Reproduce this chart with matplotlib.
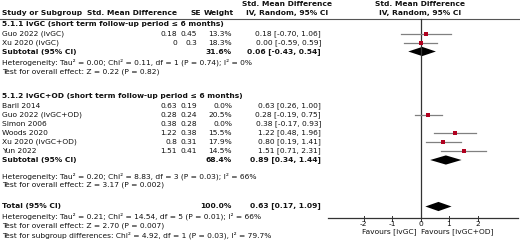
import matplotlib.pyplot as plt

# ---- data ----
g1_title = "5.1.1 ivGC (short term follow-up period ≤ 6 months)"
g1_names = ["Guo 2022 (ivGC)", "Xu 2020 (ivGC)"]
g1_smd = [0.18, 0]
g1_se = [0.45, 0.3]
g1_weight = [13.3, 18.3]
g1_lo = [-0.70, -0.59]
g1_hi = [1.06, 0.59]
g1_sub = (0.06, -0.43, 0.54, 31.6)
g1_het = "Heterogeneity: Tau² = 0.00; Chi² = 0.11, df = 1 (P = 0.74); I² = 0%"
g1_z = "Test for overall effect: Z = 0.22 (P = 0.82)"

g2_title = "5.1.2 ivGC+OD (short term follow-up period ≤ 6 months)"
g2_names = ["Baril 2014", "Guo 2022 (ivGC+OD)", "Simon 2006", "Woods 2020",
            "Xu 2020 (ivGC+OD)", "Yun 2022"]
g2_smd = [0.63, 0.28, 0.38, 1.22, 0.8, 1.51]
g2_se = [0.19, 0.24, 0.28, 0.38, 0.31, 0.41]
g2_weight = [0.0, 20.5, 0.0, 15.5, 17.9, 14.5]
g2_lo = [0.26, -0.19, -0.17, 0.48, 0.19, 0.71]
g2_hi = [1.00, 0.75, 0.93, 1.96, 1.41, 2.31]
g2_sub = (0.89, 0.34, 1.44, 68.4)
g2_het = "Heterogeneity: Tau² = 0.20; Chi² = 8.83, df = 3 (P = 0.03); I² = 66%"
g2_z = "Test for overall effect: Z = 3.17 (P = 0.002)"

total = (0.63, 0.17, 1.09, 100.0)
total_het = "Heterogeneity: Tau² = 0.21; Chi² = 14.54, df = 5 (P = 0.01); I² = 66%"
total_z = "Test for overall effect: Z = 2.70 (P = 0.007)"
total_sub = "Test for subgroup differences: Chi² = 4.92, df = 1 (P = 0.03), I² = 79.7%"

ticks = [-2, -1, 0, 1, 2]
fav_left = "Favours [ivGC]"
fav_right = "Favours [ivGC+OD]"

# ---- layout (pixels) ----
W, H = 520, 243
FS = 5.4
TXT = "#111111"
X0 = 420.5      # pixel of SMD = 0
PPU = 28.5      # pixels per SMD unit

fig = plt.figure(figsize=(W / 100, H / 100), dpi=100)
ax = fig.add_axes([0, 0, 1, 1])
ax.set_xlim(0, W)
ax.set_ylim(H, 0)
ax.axis("off")

fx = fig.add_axes([0, 0, 1, 1])
fx.set_xlim(-X0 / PPU, (W - X0) / PPU)
fx.set_ylim(H, 0)
fx.axis("off")
fx.patch.set_alpha(0)


def t(x, y, s, ha="left", bold=False):
    ax.text(x, y, s, ha=ha, va="center", fontsize=FS, color=TXT,
            fontweight="bold" if bold else "normal")


def ci_str(m, lo, hi):
    return f"{m:.2f} [{lo:.2f}, {hi:.2f}]"


def diamond(y, m, lo, hi, h=4.6):
    fx.fill([lo, m, hi, m], [y, y - h, y, y + h], color="black", lw=0)


# headers
t(287, 4, "Std. Mean Difference", ha="center", bold=True)
t(420, 4, "Std. Mean Difference", ha="center", bold=True)
t(2, 13, "Study or Subgroup", bold=True)
t(177, 13, "Std. Mean Difference", ha="right", bold=True)
t(201, 13, "SE", ha="right", bold=True)
t(234, 13, "Weight", ha="right", bold=True)
t(287, 13, "IV, Random, 95% CI", ha="center", bold=True)
t(420, 13, "IV, Random, 95% CI", ha="center", bold=True)
ax.plot([0, W], [19.5, 19.5], color="#555555", lw=0.8)


def group(title, ty, ys, names, smd, se, wt, lo, hi, sub, sy, het, hy, z, zy):
    t(2, ty, title, bold=True)
    for y, n, m, s, w, l, h in zip(ys, names, smd, se, wt, lo, hi):
        t(2, y, n)
        t(177, y, f"{m:g}", ha="right")
        t(197, y, f"{s:g}", ha="right")
        t(232, y, f"{w:.1f}%", ha="right")
        t(321, y, ci_str(m, l, h), ha="right")
        if w > 0:
            fx.plot([l, h], [y, y], color="#808080", lw=0.9, zorder=2)
            fx.plot([m], [y], marker="s", ms=0.62 * w ** 0.5,
                    color="#b0001e", mew=0, zorder=3)
    t(2, sy, "Subtotal (95% CI)", bold=True)
    t(232, sy, f"{sub[3]:.1f}%", ha="right", bold=True)
    t(321, sy, ci_str(*sub[:3]), ha="right", bold=True)
    diamond(sy, *sub[:3])
    t(2, hy, het)
    t(2, zy, z)


group(g1_title, 24, [34, 43], g1_names, g1_smd, g1_se, g1_weight, g1_lo, g1_hi,
      g1_sub, 51.5, g1_het, 62.5, g1_z, 72)
group(g2_title, 95.5, [106, 115, 124, 133, 141.5, 151], g2_names, g2_smd, g2_se,
      g2_weight, g2_lo, g2_hi, g2_sub, 160, g2_het, 176, g2_z, 185)

t(2, 205.5, "Total (95% CI)", bold=True)
t(232, 205.5, f"{total[3]:.1f}%", ha="right", bold=True)
t(321, 205.5, ci_str(*total[:3]), ha="right", bold=True)
diamond(206.5, *total[:3])
t(2, 216.5, total_het)
t(2, 226, total_z)
t(2, 235, total_sub)

# forest axis
AY = 218
fx.plot([0, 0], [19.5, AY], color="#333333", lw=0.9, zorder=1)
fx.plot([(328 - X0) / PPU, (518 - X0) / PPU], [AY, AY], color="#333333", lw=0.9)
for k in ticks:
    fx.plot([k, k], [AY - 2.5, AY + 2.5], color="#333333", lw=0.7)
    fx.text(k, AY + 6, str(k), ha="center", va="center", fontsize=FS, color=TXT)
fx.text(-0.12, 232, fav_left, ha="right", va="center", fontsize=FS, color=TXT)
fx.text(0.02, 232, fav_right, ha="left", va="center", fontsize=FS, color=TXT)

fig.savefig("out.png", dpi=100, facecolor="white")
